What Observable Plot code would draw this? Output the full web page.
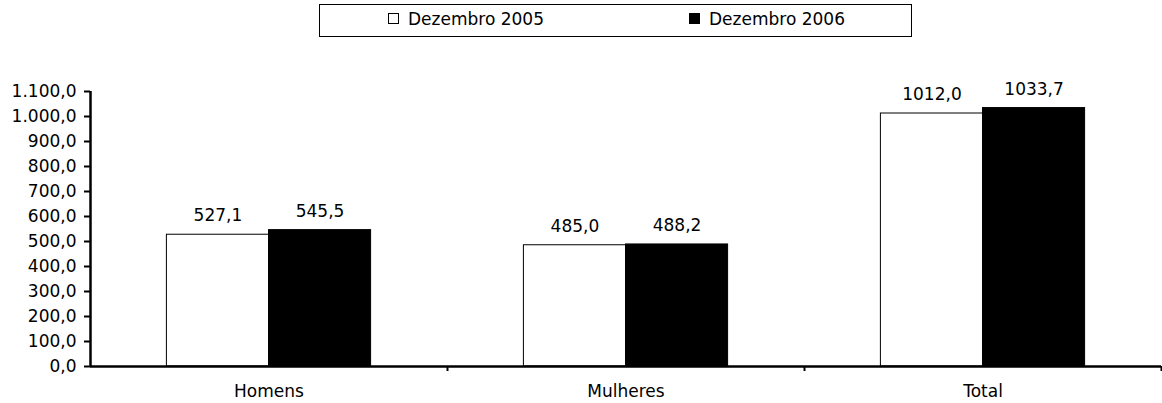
<!DOCTYPE html>
<html>
<head>
<meta charset="utf-8">
<script src="https://cdn.jsdelivr.net/npm/d3@7"></script>
<script src="https://cdn.jsdelivr.net/npm/@observablehq/plot@0.6"></script>
<style>
  html, body { margin: 0; padding: 0; background: #fff; }
  body { width: 1162px; height: 403px; overflow: hidden; font-family: "DejaVu Sans", sans-serif; }
  #legend { position: relative; height: 42px; }
  #legend .box { position: absolute; left: 319px; top: 4px; width: 591px; height: 31px; border: 1px solid #000; }
  #legend .item { position: absolute; top: 9px; font-size: 17px; line-height: 20px; color: #000; white-space: nowrap; }
  #legend .sw { display: inline-block; width: 9px; height: 9px; border: 1px solid #000; margin-right: 9px; vertical-align: 1px; }
</style>
</head>
<body>
<div id="legend"></div>
<div id="chart"></div>
<script>
// ---- data ----
const categories = ["Homens", "Mulheres", "Total"];
const seriesNames = ["Dezembro 2005", "Dezembro 2006"];
const dez2005 = [527.1, 485.0, 1012.0];
const dez2006 = [545.5, 488.2, 1033.7];
const yTicks = [0, 100, 200, 300, 400, 500, 600, 700, 800, 900, 1000, 1100];
const seriesFill = ["#ffffff", "#000000"];

// ---- build table ----
const rows = [];
categories.forEach((c, i) => {
  rows.push({cat: c, i, s: 0, series: seriesNames[0], value: dez2005[i]});
  rows.push({cat: c, i, s: 1, series: seriesNames[1], value: dez2006[i]});
});

const loc = d3.formatLocale({decimal: ",", thousands: ".", grouping: [3], currency: ["R$", ""]});
const fmtTick = loc.format(",.1f");
const fmtVal = loc.format(".1f");

// bar layout inside each category slot (fractions of the slot)
const barW = 0.286;
const x1 = d => d.i + 0.5 + (d.s - 1) * barW;
const x2 = d => d.i + 0.5 + d.s * barW;
const xc = d => d.i + 0.5 + (d.s - 0.5) * barW;

// ---- legend ----
const legend = document.getElementById("legend");
const box = document.createElement("div");
box.className = "box";
legend.appendChild(box);
const legendLeft = [388, 689];
seriesNames.forEach((name, k) => {
  const it = document.createElement("div");
  it.className = "item";
  it.style.left = legendLeft[k] + "px";
  it.innerHTML = `<span class="sw" style="background:${seriesFill[k]}"></span>${name}`;
  legend.appendChild(it);
});

// ---- chart ----
const chart = Plot.plot({
  width: 1162,
  height: 361,
  marginLeft: 90,
  marginRight: 1,
  marginTop: 49,
  marginBottom: 37,
  style: {fontFamily: "DejaVu Sans, sans-serif", fontSize: "17px", color: "#000", background: "#fff"},
  x: {type: "linear", domain: [0, categories.length], axis: null},
  y: {domain: [0, 1100], axis: null},
  marks: [
    Plot.rectY(rows, {
      x1, x2, y: "value",
      fill: d => seriesFill[d.s],
      stroke: "#000",
      strokeWidth: 1
    }),
    Plot.text(rows, {
      x: xc, y: "value",
      text: d => fmtVal(d.value),
      dy: -19,
      fill: "#000"
    }),
    Plot.axisY({
      ticks: yTicks,
      tickFormat: fmtTick,
      tickSize: 6,
      tickPadding: 8,
      strokeWidth: 2,
      label: null
    }),
    Plot.axisX({
      ticks: categories.map((c, i) => i + 0.5),
      tickFormat: v => categories[Math.round(v - 0.5)],
      tickSize: 0,
      tickPadding: 18,
      label: null
    }),
    Plot.axisX({
      ticks: categories.map((c, i) => i + 1),
      tickFormat: () => "",
      tickSize: 5,
      strokeWidth: 2,
      label: null
    }),
    Plot.ruleY([0], {stroke: "#000", strokeWidth: 2.5}),
    Plot.ruleX([0], {stroke: "#000", strokeWidth: 2.5})
  ]
});
document.getElementById("chart").appendChild(chart);
</script>
</body>
</html>
